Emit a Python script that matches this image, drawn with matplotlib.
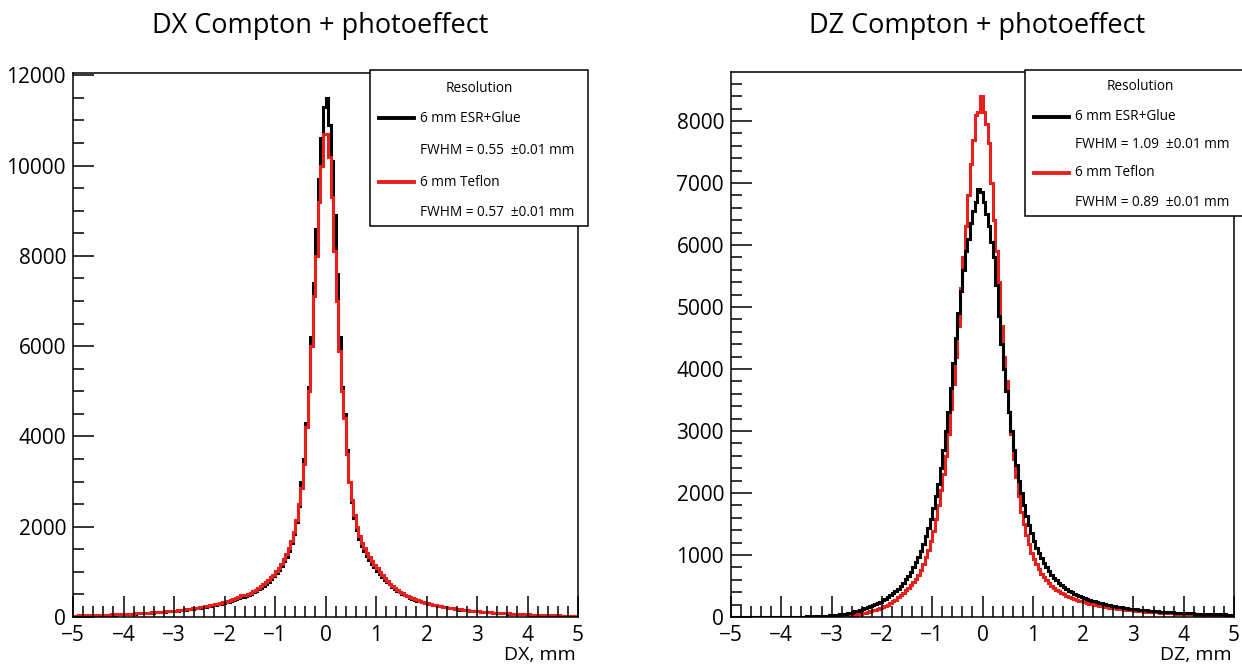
import numpy as np
import matplotlib
matplotlib.use("Agg")
import matplotlib.pyplot as plt
from matplotlib.lines import Line2D
from matplotlib.patches import Rectangle
from matplotlib.ticker import MultipleLocator

plt.rcParams["font.family"] = ["Open Sans", "DejaVu Sans"]

# histogram range: 200 bins of 0.05 mm from -5 to 5
x_min, x_max, n_bins = -5.0, 5.0, 200

# DX, ESR+Glue (black)
dx_esr = [
    31, 32, 33, 34, 35, 36, 37, 38, 39, 41, 43, 45, 47, 49, 51, 53, 55, 57, 59, 61,
    63, 66, 69, 72, 75, 78, 81, 84, 87, 90, 93, 97, 101, 105, 109, 113, 117, 122, 127, 132,
    137, 143, 149, 155, 161, 168, 175, 182, 190, 198,
    207, 216, 226, 236, 247, 258, 270, 282, 295, 309,
    324, 340, 358, 378, 398, 420, 440, 450, 468, 490,
    516, 545, 575, 610, 648, 690, 735, 785, 840, 900,
    970, 1045, 1130, 1230, 1340, 1470, 1630, 1830, 2100, 2450,
    3000, 3500, 4300, 5100, 6200, 7400, 8600, 9700, 10600, 11300,
    11500, 10900, 10100, 8900, 7600, 6200, 5100, 4500, 3700, 3000,
    2550, 2200, 1930, 1730, 1580, 1460, 1360, 1260, 1180, 1100,
    1030, 960, 895, 830, 770, 720, 670, 625, 585, 548,
    515, 485, 455, 430, 405, 385, 365, 345, 327, 312,
    297, 283, 270, 258, 246, 236, 226, 216, 206, 197,
    189, 181, 173, 166, 159, 152, 146, 140, 134, 128,
    122, 117, 112, 108, 104, 100, 96, 92, 88, 85, 82, 79, 76, 73, 70, 67, 64, 62, 60, 58,
    56, 54, 52, 50, 48, 46, 44, 42, 40, 38, 36, 35, 34, 33, 32, 31, 30, 29, 28, 27,
]

# DX, Teflon (red)
dx_teflon = [
    32, 33, 34, 35, 36, 37, 38, 40, 42, 44, 46, 48, 50, 52, 54, 56, 58, 60, 62, 64,
    67, 70, 73, 76, 79, 82, 85, 88, 91, 94, 98, 102, 106, 110, 114, 118, 123, 128, 133, 138,
    143, 149, 155, 161, 168, 175, 182, 190, 198, 207,
    216, 226, 236, 247, 258, 270, 282, 295, 310, 325,
    340, 355, 375, 395, 415, 440, 480, 490, 495, 515,
    540, 570, 600, 640, 680, 720, 770, 820, 880, 940,
    1010, 1090, 1180, 1280, 1390, 1520, 1680, 1880, 2150, 2500,
    2850, 3400, 4200, 5000, 6000, 7100, 8000, 9200, 10000, 10700,
    10700, 10200, 9300, 8100, 7000, 5900, 5000, 4400, 3600, 3000,
    2600, 2250, 2000, 1800, 1650, 1520, 1420, 1320, 1230, 1150,
    1080, 1000, 930, 860, 790, 740, 690, 640, 600, 560,
    525, 495, 465, 440, 415, 395, 375, 355, 335, 320,
    305, 290, 275, 262, 250, 240, 230, 220, 210, 200,
    192, 184, 176, 168, 161, 154, 147, 141, 135, 129,
    124, 119, 114, 110, 106, 102, 98, 94, 90, 87, 84, 81, 78, 75, 72, 69, 66, 63, 60, 58,
    56, 54, 52, 50, 48, 46, 44, 42, 40, 38, 36, 35, 34, 33, 32, 31, 30, 29, 28, 27,
]

# DZ, ESR+Glue (black)
dz_esr = [
    0, 0, 0, 1, 1, 1, 1, 1, 1, 1, 1, 2, 2, 2, 2, 2, 2, 3, 3, 3,
    3, 4, 4, 4, 5, 5, 6, 6, 7, 8, 9, 10, 11, 12, 14, 16, 18, 20, 23, 25,
    27, 31, 36, 42, 48, 55, 63, 72, 82, 92,
    103, 115, 128, 142, 157, 173, 190, 208, 228, 248,
    270, 295, 320, 348, 380, 415, 455, 500, 550, 605,
    665, 730, 800, 880, 970, 1070, 1180, 1300, 1430, 1580,
    1750, 1950, 2150, 2400, 2700, 3000, 3300, 3700, 4100, 4500,
    4900, 5250, 5600, 5900, 6100, 6350, 6550, 6700, 6900, 6850,
    6700, 6500, 6300, 6050, 5800, 5350, 4850, 4400, 4000, 3650,
    3300, 3000, 2700, 2450, 2200, 2000, 1800, 1630, 1480, 1350,
    1230, 1120, 1030, 950, 870, 800, 740, 685, 635, 590,
    550, 515, 482, 452, 425, 400, 378, 358, 340, 322,
    306, 291, 277, 264, 252, 240, 229, 219, 209, 200,
    191, 183, 175, 168, 161, 154, 148, 142, 136, 131,
    126, 121, 117, 113, 109, 105, 101, 97, 94, 91, 88, 85, 82, 79, 76, 74, 72, 70, 68, 66,
    64, 62, 60, 58, 56, 54, 52, 50, 49, 48, 47, 46, 45, 44, 43, 42, 41, 40, 39, 38,
]

# DZ, Teflon (red)
dz_teflon = [
    0, 0, 0, 0, 0, 1, 0, 1, 1, 1, 1, 1, 1, 2, 2, 2, 2, 2, 3, 3,
    3, 3, 4, 4, 4, 4, 5, 5, 5, 5, 6, 6, 6, 7, 7, 7, 8, 8, 8, 8,
    9, 10, 12, 14, 17, 20, 24, 28, 33, 38,
    45, 52, 60, 70, 80, 92, 105, 120, 135, 150,
    165, 180, 200, 225, 250, 280, 315, 350, 390, 430,
    470, 520, 570, 620, 680, 760, 850, 960, 1080, 1220,
    1380, 1580, 1800, 2050, 2300, 2600, 2950, 3350, 3750, 4200,
    4700, 5300, 5800, 6300, 6800, 7300, 7700, 8100, 8150, 8400,
    8150, 7950, 7650, 7000, 6400, 5900, 5400, 4700, 4200, 3800,
    3300, 2950, 2550, 2250, 1950, 1700, 1500, 1320, 1170, 1040,
    940, 850, 770, 700, 640, 590, 545, 505, 470, 440,
    412, 388, 365, 345, 325, 308, 292, 277, 263, 250,
    238, 227, 216, 206, 197, 188, 180, 172, 165, 158,
    152, 146, 140, 134, 129, 124, 119, 114, 110, 106,
    102, 98, 94, 91, 88, 85, 82, 79, 76, 73, 70, 68, 66, 64, 62, 60, 58, 56, 54, 52,
    50, 48, 46, 44, 42, 40, 39, 38, 37, 36, 35, 34, 33, 32, 31, 30, 29, 28, 27, 26,
]

titles = ["DX Compton + photoeffect", "DZ Compton + photoeffect"]
xlabels = ["DX, mm", "DZ, mm"]
labels = ["6 mm ESR+Glue", "6 mm Teflon"]
fwhm_dx = ["FWHM = 0.55  \u00b10.01 mm", "FWHM = 0.57  \u00b10.01 mm"]
fwhm_dz = ["FWHM = 1.09  \u00b10.01 mm", "FWHM = 0.89  \u00b10.01 mm"]

W, H = 1242, 664
RED = "#e8201c"
edges = np.linspace(x_min, x_max, n_bins + 1)

fig = plt.figure(figsize=(W / 100, H / 100), dpi=100)


def fx(px):
    return px / W


def fy(py):
    return 1 - py / H


def setup_axes(ax, ymax, ymajor, yminor):
    ax.set_xlim(x_min, x_max)
    ax.set_ylim(0, ymax)
    ax.xaxis.set_major_locator(MultipleLocator(1))
    ax.xaxis.set_minor_locator(MultipleLocator(0.2))
    ax.yaxis.set_major_locator(MultipleLocator(ymajor))
    ax.yaxis.set_minor_locator(MultipleLocator(yminor))
    ax.tick_params(which="both", direction="in", top=False, right=False,
                   width=1.1, labelsize=15)
    ax.tick_params(which="major", length=15, pad=5)
    ax.tick_params(which="minor", length=8)
    ax.tick_params(axis="x", pad=6)
    for s in ax.spines.values():
        s.set_linewidth(1.1)


def legend(x0, y0, x1, y1, rows, fwhm, order):
    fig.add_artist(Rectangle((fx(x0), fy(y1)), fx(x1 - x0), fy(y0) - fy(y1),
                             transform=fig.transFigure, facecolor="white",
                             edgecolor="black", linewidth=1.1, zorder=10))
    cx = (x0 + x1) / 2
    fig.text(fx(cx), fy(rows[0]), "Resolution", ha="center", va="center",
             fontsize=9.8, zorder=11)
    for i, (lab, fw, col) in enumerate(zip(labels, fwhm, order)):
        yl = rows[1 + 2 * i]
        fig.add_artist(Line2D([fx(x0 + 9), fx(x0 + 44)], [fy(yl), fy(yl)],
                              color=col, linewidth=2.8, zorder=11))
        fig.text(fx(x0 + 50), fy(yl), lab, ha="left", va="center",
                 fontsize=9.8, zorder=11)
        fig.text(fx(x0 + 50), fy(rows[2 + 2 * i]), fw, ha="left", va="center",
                 fontsize=9.8, zorder=11)


# left panel: DX
ax1 = fig.add_axes([fx(73), fy(617), fx(505), fy(73) - fy(617)])
ax1.stairs(dx_esr, edges, baseline=None, color="black", linewidth=2.2)
ax1.stairs(dx_teflon, edges, baseline=None, color=RED, linewidth=2.2)
setup_axes(ax1, 12050, 2000, 500)

# right panel: DZ
ax2 = fig.add_axes([fx(731), fy(617), fx(503), fy(72) - fy(617)])
ax2.stairs(dz_teflon, edges, baseline=None, color=RED, linewidth=2.2)
ax2.stairs(dz_esr, edges, baseline=None, color="black", linewidth=2.2)
setup_axes(ax2, 8790, 1000, 200)

fig.text(fx(320), fy(26), titles[0], ha="center", va="center", fontsize=19.5)
fig.text(fx(977), fy(26), titles[1], ha="center", va="center", fontsize=19.5)
fig.text(fx(576), fy(655), xlabels[0], ha="right", va="center", fontsize=14)
fig.text(fx(1232), fy(655), xlabels[1], ha="right", va="center", fontsize=14)

legend(370, 70, 588, 226, [88, 118, 150, 182, 213], fwhm_dx, ["black", RED])
legend(1025, 70, 1255, 216, [86, 117, 145, 173, 203], fwhm_dz, ["black", RED])

fig.savefig("out.png", dpi=100)
